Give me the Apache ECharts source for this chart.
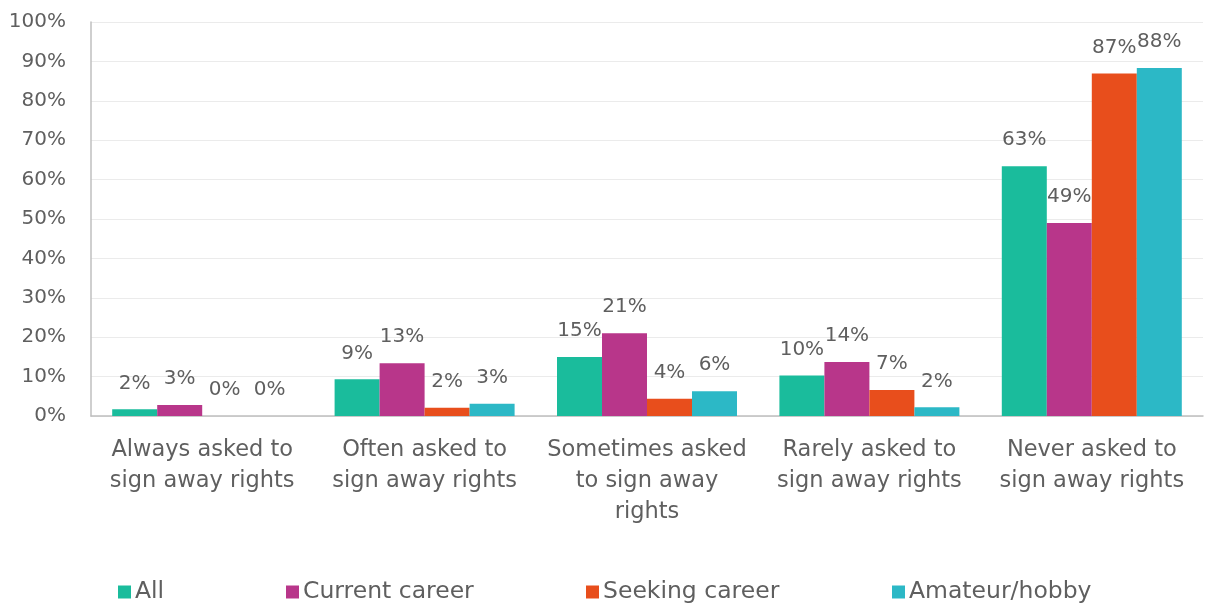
<!DOCTYPE html>
<html><head><meta charset="utf-8">
<script src="https://cdn.jsdelivr.net/npm/echarts@6/dist/echarts.min.js"></script>
<style>html,body{margin:0;padding:0;background:#fff}#c{width:1208px;height:606px}</style>
</head><body><div id="c"></div>
<script>
const categories = ["Always asked to\nsign away rights","Often asked to\nsign away rights","Sometimes asked\nto sign away\nrights","Rarely asked to\nsign away rights","Never asked to\nsign away rights"];
const seriesNames = ["All","Current career","Seeking career","Amateur/hobby"];
const allVals = [1.7, 9.3, 15.0, 10.3, 63.4];
const currentVals = [2.8, 13.4, 21.0, 13.7, 49.0];
const seekingVals = [0, 2.1, 4.4, 6.6, 86.9];
const amateurVals = [0, 3.1, 6.3, 2.2, 88.3];
const yTicks = [0,10,20,30,40,50,60,70,80,90,100];
const colors = ["#1ABC9C","#B8368A","#E84E1C","#2CB8C6"];
const data = [allVals, currentVals, seekingVals, amateurVals];
const FONT = "DejaVu Sans";
const txt = "#5f5f5f";
const legendLeft = [113, 281, 581, 887];
const chart = echarts.init(document.getElementById('c'));
chart.setOption({
  animation:false,
  textStyle:{fontFamily:FONT},
  grid:{left:91,right:5,top:22,bottom:190,containLabel:false},
  legend: seriesNames.map((n,i)=>({data:[n],left:legendLeft[i],top:575,icon:'rect',itemWidth:13,itemHeight:13,itemGap:4,
    textStyle:{fontFamily:FONT,fontSize:23.5,color:txt,padding:[0,0,0,-1]}})),
  xAxis:{type:'category',data:categories,
    axisLine:{lineStyle:{color:'#bfbfbf',width:1.5}},axisTick:{show:false},
    axisLabel:{interval:0,fontFamily:FONT,fontSize:22.5,color:txt,lineHeight:31,margin:19}},
  yAxis:{type:'value',min:0,max:100,interval:10,
    axisLine:{show:true,lineStyle:{color:'#bfbfbf',width:1.5}},axisTick:{show:false},
    splitLine:{lineStyle:{color:'#ebebeb',width:1}},
    axisLabel:{fontFamily:FONT,fontSize:20,color:txt,margin:25,formatter:v=>yTicks.includes(v)?v+'%':''}},
  series: seriesNames.map((n,i)=>({name:n,type:'bar',data:data[i],barWidth:45,barGap:'0%',
    itemStyle:{color:colors[i]},
    label:{show:true,position:'top',distance:16,fontFamily:FONT,fontSize:20,color:txt,formatter:p=>Math.round(p.value)+'%'}}))
});
</script></body></html>
